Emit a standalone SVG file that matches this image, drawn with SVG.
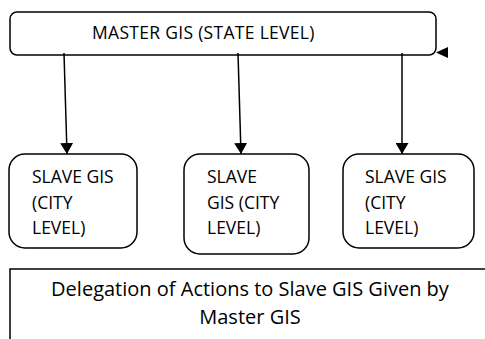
<svg xmlns="http://www.w3.org/2000/svg" width="485" height="339" viewBox="0 0 485 339">
<defs>
<style>
.box{fill:#fff;stroke:#000;stroke-width:1.5}
.t{font-family:"Open Sans","Liberation Sans",sans-serif;font-size:17.5px;fill:#000}
.m{font-family:"Open Sans","Liberation Sans",sans-serif;font-size:17.5px;fill:#000;letter-spacing:0.3px}
.b{font-family:"Open Sans","Liberation Sans",sans-serif;font-size:20px;fill:#000}
.c{stroke:#000;stroke-width:1.5;fill:none}
</style>
<marker id="ah" viewBox="0 0 11 13" refX="11" refY="6.5" markerWidth="11" markerHeight="13" markerUnits="userSpaceOnUse" orient="auto">
<path d="M0,0 L11,6.5 L0,13 Z" fill="#000"/>
</marker>
</defs>
<rect width="485" height="339" fill="#fff"/>
<g id="master">
<rect class="box" x="10" y="12" width="426" height="43" rx="7"/>
<text class="m" x="92" y="39">MASTER GIS (STATE LEVEL)</text>
<path d="M448,47 L436,52.5 L448,58 Z" fill="#000"/>
</g>
<g id="connectors">
<line class="c" x1="64" y1="53" x2="67" y2="154" marker-end="url(#ah)"/>
<line class="c" x1="238" y1="53" x2="241" y2="154" marker-end="url(#ah)"/>
<line class="c" x1="402" y1="53" x2="402" y2="154" marker-end="url(#ah)"/>
</g>
<g id="slave1">
<rect class="box" x="9" y="154" width="128" height="94" rx="16"/>
<text class="t" x="32" y="183">SLAVE GIS</text>
<text class="t" x="32" y="209">(CITY</text>
<text class="t" x="32" y="234">LEVEL)</text>
</g>
<g id="slave2">
<rect class="box" x="184" y="154" width="125" height="100" rx="16"/>
<text class="t" x="207" y="183">SLAVE</text>
<text class="t" x="207" y="209">GIS (CITY</text>
<text class="t" x="207" y="234">LEVEL)</text>
</g>
<g id="slave3">
<rect class="box" x="343" y="154" width="131" height="94" rx="16"/>
<text class="t" x="365" y="183">SLAVE GIS</text>
<text class="t" x="365" y="209">(CITY</text>
<text class="t" x="365" y="234">LEVEL)</text>
</g>
<g id="delegation">
<path class="c" d="M10,339 L10,269 L485,269"/>
<text class="b" x="250" y="296" text-anchor="middle">Delegation of Actions to Slave GIS Given by</text>
<text class="b" x="250" y="324" text-anchor="middle">Master GIS</text>
</g>
</svg>
